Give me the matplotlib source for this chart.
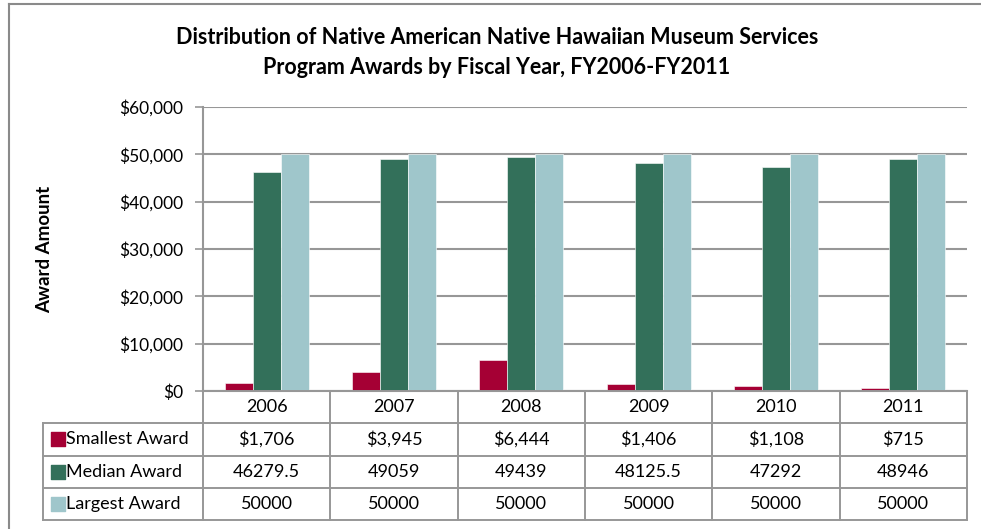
import numpy as np
import matplotlib
matplotlib.use("Agg")
import matplotlib.pyplot as plt
from matplotlib.lines import Line2D
from matplotlib.ticker import StrMethodFormatter

# data
years = ["2006", "2007", "2008", "2009", "2010", "2011"]
smallest = [1706, 3945, 6444, 1406, 1108, 715]
median = [46279.5, 49059, 49439, 48125.5, 47292, 48946]
largest = [50000, 50000, 50000, 50000, 50000, 50000]
series_names = ["Smallest Award", "Median Award", "Largest Award"]
colors = ["#A50034", "#33705A", "#9FC6CB"]

plt.rcParams['font.family'] = ['Lato', 'DejaVu Sans']

W, H = 981, 529
fig = plt.figure(figsize=(W / 100, H / 100), dpi=100)
fig.patch.set_facecolor("white")

grid_col = "#979797"

# outer chart frame (left and top edges visible only)
fig.add_artist(Line2D([9 / W, 9 / W], [0, 1 - 4 / H], transform=fig.transFigure,
                      color="#8a8a8a", lw=1.5))
fig.add_artist(Line2D([9 / W, 1], [1 - 4 / H, 1 - 4 / H], transform=fig.transFigure,
                      color="#8a8a8a", lw=1.5))

# plot area
left, right, top, bottom = 203, 967, 107, 391
ax = fig.add_axes([left / W, 1 - bottom / H, (right - left) / W, (bottom - top) / H])

x = np.arange(len(years))
w = 0.22
for i, vals in enumerate([smallest, median, largest]):
    ax.bar(x + (i - 1) * w, vals, width=w, color=colors[i], edgecolor="white",
           linewidth=0.4, zorder=3)

ax.set_xlim(-0.5, len(years) - 0.5)
ax.set_ylim(0, 60000)
ax.set_yticks(np.arange(0, 60001, 10000))
ax.yaxis.set_major_formatter(StrMethodFormatter("${x:,.0f}"))
ax.yaxis.grid(True, color=grid_col, lw=1.5, zorder=0)
ax.set_axisbelow(True)
ax.set_xticks([])
for s in ["top", "right"]:
    ax.spines[s].set_visible(False)
for s in ["left", "bottom"]:
    ax.spines[s].set_color(grid_col)
    ax.spines[s].set_linewidth(1.5)
ax.tick_params(axis="y", direction="out", length=6, width=1.2, color=grid_col,
               labelsize=12.5, labelcolor="black", pad=8)

ax.set_ylabel("Award Amount", fontsize=13.5, fontweight="bold", labelpad=48)

fig.text(497 / W, 1 - 37 / H, "Distribution of Native American Native Hawaiian Museum Services",
         ha="center", va="center", fontsize=15.5, fontweight="bold")
fig.text(497 / W, 1 - 68 / H, "Program Awards by Fiscal Year, FY2006-FY2011",
         ha="center", va="center", fontsize=15.5, fontweight="bold")

# data table below the plot area, sharing the category scale
px_per_cat = (right - left) / len(years)
tab_left = 43
xl = -0.5 - (left - tab_left) / px_per_cat
tab = fig.add_axes([tab_left / W, 1 - 520 / H, (right - tab_left) / W, (520 - bottom) / H])
tab.set_xlim(xl, len(years) - 0.5)
tab.set_ylim(4, 0)
tab.axis("off")

lc = dict(color=grid_col, lw=1.4, clip_on=False)
# horizontal lines
tab.plot([-0.5, len(years) - 0.5], [0, 0], **lc)
for r in [1, 2, 3, 4]:
    tab.plot([xl, len(years) - 0.5], [r, r], **lc)
# vertical lines
for c in range(len(years) + 1):
    tab.plot([c - 0.5, c - 0.5], [0, 4], **lc)
tab.plot([xl, xl], [1, 4], **lc)

fs = 13
for c, yr in enumerate(years):
    tab.text(c, 0.5, yr, ha="center", va="center", fontsize=fs)
    tab.text(c, 1.5, f"${smallest[c]:,}", ha="center", va="center", fontsize=fs)
    tab.text(c, 2.5, f"{median[c]:g}", ha="center", va="center", fontsize=fs)
    tab.text(c, 3.5, f"{largest[c]:g}", ha="center", va="center", fontsize=fs)

key_x = xl + (58 - tab_left) / px_per_cat
txt_x = xl + (66 - tab_left) / px_per_cat
for r, (name, col) in enumerate(zip(series_names, colors)):
    tab.scatter([key_x], [r + 1.5], marker="s", s=100, color=col, clip_on=False)
    tab.text(txt_x, r + 1.5, name, ha="left", va="center", fontsize=fs)

fig.savefig("out.png", dpi=100)
